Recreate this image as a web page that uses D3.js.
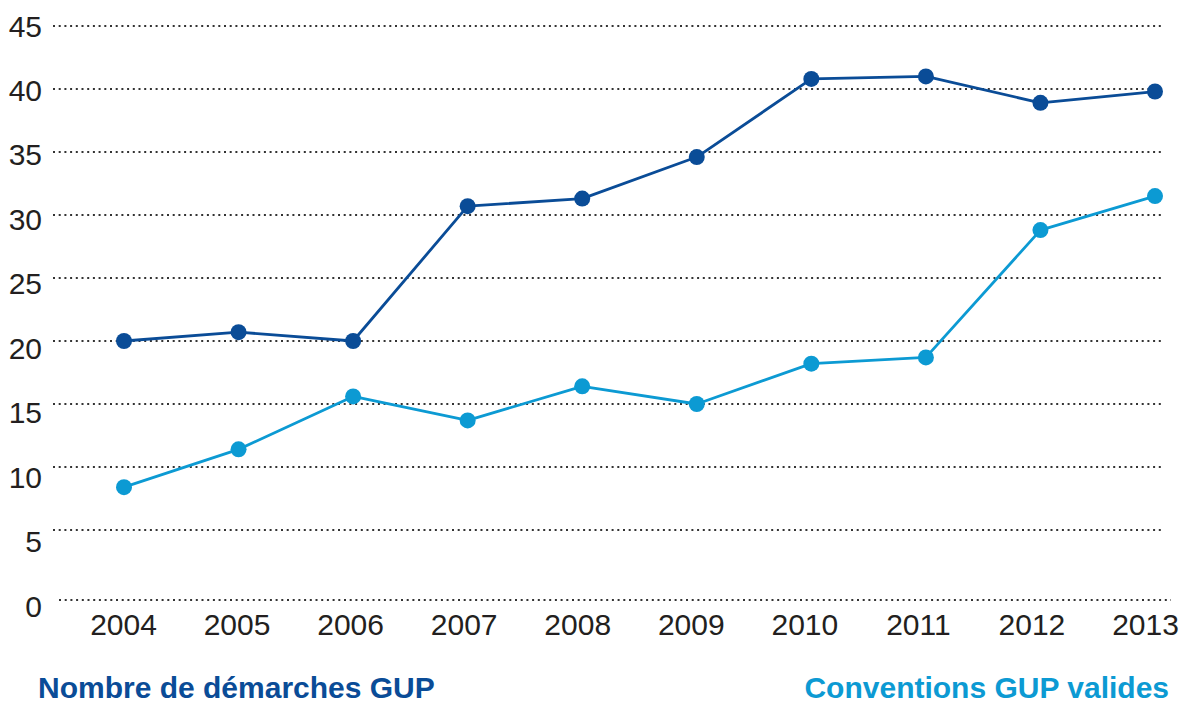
<!DOCTYPE html>
<html><head><meta charset="utf-8">
<script src="https://cdn.jsdelivr.net/npm/d3@7"></script>
<style>
html,body{margin:0;padding:0;background:#fff;}
svg{display:block;font-family:"Liberation Sans",Arial,sans-serif;}
</style></head>
<body>
<svg id="c" width="1189" height="705"></svg>
<script>
const years = ["2004","2005","2006","2007","2008","2009","2010","2011","2012","2013"];
const demarches = [20.0, 20.7, 20.0, 30.7, 31.3, 34.6, 40.8, 41.0, 38.9, 39.8];
const conventions = [8.4, 11.4, 15.6, 13.7, 16.4, 15.0, 18.2, 18.7, 28.8, 31.5];
const yTicks = [0, 5, 10, 15, 20, 25, 30, 35, 40, 45];
const seriesNames = ["Nombre de démarches GUP", "Conventions GUP valides"];

const darkBlue = "#0a4c97", lightBlue = "#0c9ad3", textCol = "#231f20";
const svg = d3.select("#c");

const x = d3.scalePoint().domain(years).range([124, 1155]);
const xLab = d3.scalePoint().domain(years).range([123, 1145]);
const y = d3.scaleLinear().domain([0, 45]).range([593, 26]);
const yLab = d3.scaleLinear().domain([0, 45]).range([616, 36]);

// gridlines
const grid = svg.append("g");
grid.selectAll("line").data(yTicks).join("line")
  .attr("x1", d => d === 0 ? 59 : 53)
  .attr("x2", d => d === 0 ? 1171 : 1164)
  .attr("y1", d => d === 0 ? y(d) + 7 : y(d))
  .attr("y2", d => d === 0 ? y(d) + 7 : y(d))
  .attr("stroke", "#333").attr("stroke-width", 2)
  .attr("stroke-dasharray", "2 3.7");

// y tick labels
const yAxis = d3.axisLeft(yLab).tickValues(yTicks).tickSize(0).tickPadding(0);
const ya = svg.append("g").attr("transform", "translate(42,0)").call(yAxis);
ya.select(".domain").remove();
ya.selectAll("text").attr("font-size", 30).attr("fill", textCol)
  .attr("dy", 0).attr("font-family", "Liberation Sans, Arial, sans-serif");

// x tick labels
const xAxis = d3.axisBottom(xLab).tickSize(0).tickPadding(0);
const xa = svg.append("g").attr("transform", "translate(0,635)").call(xAxis);
xa.select(".domain").remove();
xa.selectAll("text").attr("font-size", 30).attr("fill", textCol)
  .attr("dy", 0).attr("y", 0).attr("font-family", "Liberation Sans, Arial, sans-serif");

const line = d3.line().x((d, i) => x(years[i])).y(d => y(d));

function drawSeries(vals, col) {
  const g = svg.append("g");
  g.append("path").datum(vals).attr("d", line)
    .attr("fill", "none").attr("stroke", col).attr("stroke-width", 2.8)
    .attr("stroke-linejoin", "round");
  g.selectAll("circle").data(vals).join("circle")
    .attr("cx", (d, i) => x(years[i])).attr("cy", d => y(d))
    .attr("r", 8).attr("fill", col);
}
drawSeries(conventions, lightBlue);
drawSeries(demarches, darkBlue);

// legend
svg.append("text").attr("x", 38).attr("y", 698)
  .attr("font-size", 30).attr("font-weight", "bold").attr("fill", darkBlue)
  .text(seriesNames[0]);
svg.append("text").attr("x", 1169).attr("y", 698).attr("text-anchor", "end")
  .attr("font-size", 30).attr("font-weight", "bold").attr("fill", lightBlue)
  .text(seriesNames[1]);
</script>
</body></html>
